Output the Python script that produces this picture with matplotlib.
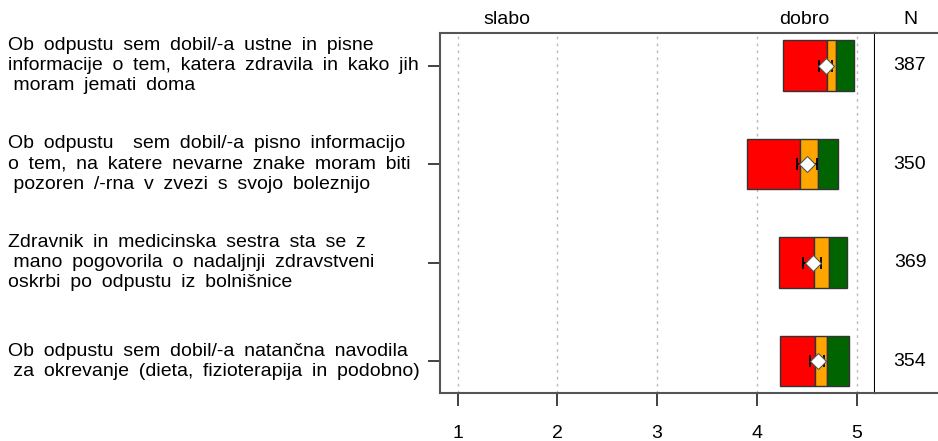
import matplotlib.pyplot as plt
import numpy as np
from matplotlib.transforms import blended_transform_factory

plt.rcParams['font.family'] = ['Liberation Sans', 'DejaVu Sans']

# questions, top to bottom
labels = [
    'Ob odpustu sem dobil/-a ustne in pisne\ninformacije o tem, katera zdravila in kako jih\n moram jemati doma',
    'Ob odpustu  sem dobil/-a pisno informacijo\no tem, na katere nevarne znake moram biti\n pozoren /-rna v zvezi s svojo boleznijo',
    'Zdravnik in medicinska sestra sta se z\n mano pogovorila o nadaljnji zdravstveni\noskrbi po odpustu iz bolnišnice',
    'Ob odpustu sem dobil/-a natančna navodila\n za okrevanje (dieta, fizioterapija in podobno)',
]
n_resp = [387, 350, 369, 354]

# box segments: red from box_lo to red_hi, orange to orange_hi, green to box_hi
box_lo = [4.26, 3.90, 4.22, 4.23]
red_hi = [4.70, 4.43, 4.57, 4.58]
orange_hi = [4.79, 4.61, 4.72, 4.70]
box_hi = [4.97, 4.81, 4.90, 4.92]

# mean with confidence interval
mean = [4.69, 4.50, 4.56, 4.615]
ci_lo = [4.625, 4.40, 4.465, 4.535]
ci_hi = [4.755, 4.605, 4.64, 4.675]

W, H = 938, 441
fig = plt.figure(figsize=(W / 100, H / 100), dpi=100)

left, right, top, bottom = 440, 875.3, 33, 392.7
ax = fig.add_axes([left / W, (H - bottom) / H, (right - left) / W, (bottom - top) / H])
axn = fig.add_axes([right / W, (H - bottom) / H, 80 / W, (bottom - top) / H])

fs = 14
y = np.arange(1, len(labels) + 1)
bh = 0.51
edge = '#333333'

lo = np.array(box_lo)
r = np.array(red_hi)
o = np.array(orange_hi)
g = np.array(box_hi)
ax.barh(y, r - lo, left=lo, height=bh, color='#ff0000', edgecolor=edge, lw=1, zorder=3)
ax.barh(y, o - r, left=r, height=bh, color='#ffa500', edgecolor=edge, lw=1, zorder=3)
ax.barh(y, g - o, left=o, height=bh, color='#006400', edgecolor=edge, lw=1, zorder=3)

m = np.array(mean)
xerr = [m - np.array(ci_lo), np.array(ci_hi) - m]
ax.errorbar(m, y, xerr=xerr, fmt='none', ecolor='black', elinewidth=1.3,
            capsize=4.5, capthick=1.3, zorder=4)
ax.plot(m, y, 'D', ms=8.5, mfc='white', mec='#555555', mew=0.8, zorder=5)

ax.set_xlim(0.823, 5.187)
ax.set_ylim(4.32, 0.67)
ax.set_xticks([1, 2, 3, 4, 5])
ax.set_xticklabels(['1', '2', '3', '4', '5'], fontsize=fs)
ax.set_yticks(y)
ax.set_yticklabels([])
ax.tick_params(axis='x', length=9, width=1.3, color='#333333', pad=14)
ax.tick_params(axis='y', length=9, width=1.3, color='#333333')
ax.grid(axis='x', color='#bbbbbb', ls=(0, (2, 3)), lw=1, zorder=0)
for s in ['top', 'bottom', 'left']:
    ax.spines[s].set_color('#555555')
    ax.spines[s].set_linewidth(1.5)
ax.spines['right'].set_color('black')
ax.spines['right'].set_linewidth(1.5)


def widen(text):
    # wider gaps between words, leading indent stays a plain space
    out = []
    for line in text.split('\n'):
        lead = len(line) - len(line.lstrip(' '))
        body = line.lstrip(' ').replace('  ', ' \u2002').replace(' ', '\u2002')
        out.append(' ' * lead + body)
    return '\n'.join(out)


# question text, vertically centred on each row
trans = blended_transform_factory(fig.transFigure, ax.transData)
for yi, lab in zip(y, labels):
    ax.text(8 / W, yi, widen(lab), transform=trans,
            ha='left', va='center', fontsize=fs, linespacing=1.25)

# N column
axn.set_xlim(0, 1)
axn.set_ylim(4.32, 0.67)
axn.set_xticks([])
axn.set_yticks([])
for s in ['top', 'bottom']:
    axn.spines[s].set_color('#555555')
    axn.spines[s].set_linewidth(1.5)
axn.spines['left'].set_visible(False)
axn.spines['right'].set_visible(False)
for yi, nv in zip(y, n_resp):
    axn.text((910 - right) / 80, yi, str(nv), ha='center', va='center', fontsize=fs)

fig.text(507 / W, (H - 20) / H, 'slabo', ha='center', va='center', fontsize=fs)
fig.text(804 / W, (H - 20) / H, 'dobro', ha='center', va='center', fontsize=fs)
fig.text(910 / W, (H - 20) / H, 'N', ha='center', va='center', fontsize=fs)

fig.savefig('out.png', dpi=100)
